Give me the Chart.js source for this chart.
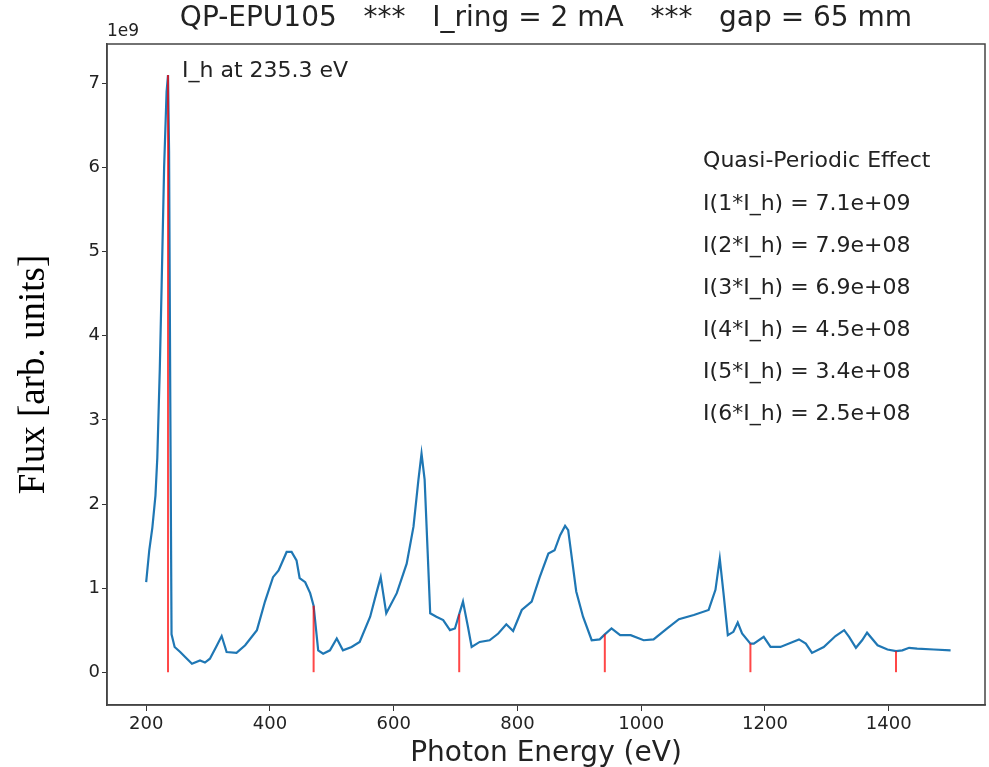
<!DOCTYPE html>
<html><head><meta charset="utf-8">
<script src="https://cdn.jsdelivr.net/npm/chart.js@4.4.1/dist/chart.umd.min.js"></script>
<style>html,body{margin:0;padding:0;background:#fff;}#wrap{width:989px;height:767px;}</style>
</head><body><div id="wrap"><canvas id="c" width="989" height="767"></canvas></div>
<script>
// Photon energy (eV) and flux (units of 1e9)
const energy = [200,205,210,215,218,222,225,229,233,235.3,237,239,241,246,255,263,274,287,295,303,313,322,330,346,360,379,392,405,414,427,435,443,448,457,465,470.6,478,486,497,508,518,532,545,562,572,579,588,605,621,632,640,645,650,655,659,669,680,691,699,705.9,712,720,726,739,755,769,782,793,807,823,836,850,860,869,877,882,895,906,920,933,941.2,952,966,983,1004,1020,1042,1061,1085,1109,1120,1127,1133,1140,1149,1156,1163,1176.5,1182,1198,1209,1225,1255,1266,1276,1295,1314,1328,1336,1347,1357,1365,1382,1398,1411.8,1422,1433,1446,1473,1500];
const flux = [1.07,1.45,1.72,2.1,2.55,3.6,4.6,6.0,6.9,7.1,6.2,3.2,0.45,0.30,0.24,0.18,0.10,0.14,0.115,0.16,0.30,0.43,0.24,0.23,0.32,0.50,0.84,1.13,1.21,1.43,1.43,1.33,1.12,1.07,0.94,0.79,0.26,0.22,0.26,0.40,0.26,0.30,0.36,0.66,0.94,1.13,0.70,0.94,1.29,1.73,2.29,2.60,2.29,1.41,0.70,0.66,0.62,0.50,0.52,0.69,0.84,0.54,0.30,0.36,0.38,0.46,0.57,0.49,0.74,0.84,1.13,1.41,1.45,1.63,1.74,1.69,0.96,0.66,0.38,0.39,0.45,0.52,0.44,0.44,0.38,0.39,0.52,0.63,0.68,0.74,0.98,1.35,0.94,0.44,0.48,0.59,0.46,0.34,0.34,0.42,0.30,0.30,0.39,0.34,0.23,0.30,0.43,0.50,0.42,0.29,0.38,0.47,0.32,0.27,0.25,0.26,0.29,0.28,0.27,0.26];
// Harmonics (eV) and their intensities (units of 1e9)
const harmonicE = [235.3, 470.6, 705.9, 941.2, 1176.5, 1411.8];
const harmonicI = [7.1, 0.79, 0.69, 0.45, 0.34, 0.25];
const xTicks = [200, 400, 600, 800, 1000, 1200, 1400];
const yTicks = [0, 1, 2, 3, 4, 5, 6, 7];
const titleText = "QP-EPU105   ***   I_ring = 2 mA   ***   gap = 65 mm";
const peakLabel = "I_h at 235.3 eV";
const infoLines = ["Quasi-Periodic Effect","I(1*I_h) = 7.1e+09","I(2*I_h) = 7.9e+08","I(3*I_h) = 6.9e+08","I(4*I_h) = 4.5e+08","I(5*I_h) = 3.4e+08","I(6*I_h) = 2.5e+08"];
const xLabel = "Photon Energy (eV)";
const yLabel = "Flux [arb. units]";
const expLabel = "1e9";

const datasets = [{
  data: energy.map((e, i) => ({x: e, y: flux[i]})),
  borderColor: '#1f77b4', borderWidth: 2.2, pointRadius: 0, tension: 0, order: 2
}];
harmonicE.forEach((e, i) => {
  datasets.push({
    data: [{x: e, y: 0}, {x: e, y: harmonicI[i]}],
    borderColor: 'rgba(255,0,0,0.72)', borderWidth: 2, pointRadius: 0, order: 1
  });
});

const TXT = '#222';
const textPlugin = {
  id: 'texts',
  afterDraw(chart) {
    const {ctx, chartArea: a, scales: {x, y}} = chart;
    ctx.save();
    ctx.strokeStyle = '#444'; ctx.lineWidth = 1.5;
    ctx.strokeRect(a.left, a.top, a.right - a.left, a.bottom - a.top);
    ctx.fillStyle = TXT;
    ctx.textBaseline = 'middle';
    ctx.textAlign = 'center';
    ctx.font = '28px "DejaVu Sans"';
    ctx.fillText(titleText, (a.left + a.right) / 2, 19);
    ctx.textAlign = 'left';
    ctx.font = '17px "DejaVu Sans"';
    ctx.fillText(expLabel, a.left, 32);
    ctx.font = '22px "DejaVu Sans"';
    ctx.fillText(peakLabel, x.getPixelForValue(258), y.getPixelForValue(7.14));
    infoLines.forEach((t, i) => {
      ctx.fillText(t, x.getPixelForValue(1100), y.getPixelForValue(6.07 - 0.5 * i));
    });
    ctx.restore();
  }
};

new Chart(document.getElementById('c'), {
  type: 'line',
  data: {datasets},
  options: {
    responsive: false, animation: false,
    layout: {padding: {top: 44, right: 4, left: 0, bottom: 0}},
    plugins: {legend: {display: false}, tooltip: {enabled: false}},
    scales: {
      x: {
        type: 'linear', min: 136.7, max: 1555.6,
        afterBuildTicks: s => { s.ticks = xTicks.map(v => ({value: v})); },
        afterFit: s => { s.height = 62; },
        ticks: {autoSkip: false, maxRotation: 0, padding: 3, color: TXT, font: {size: 18, family: 'DejaVu Sans'}, callback: v => String(v)},
        grid: {drawOnChartArea: false, drawTicks: true, tickLength: 6, color: '#333'},
        border: {display: true, color: '#444', width: 1.5},
        title: {display: true, text: xLabel, color: TXT, font: {size: 28, family: 'DejaVu Sans'}, padding: {top: 0, bottom: -4}}
      },
      y: {
        type: 'linear', min: -0.39, max: 7.47,
        afterBuildTicks: s => { s.ticks = yTicks.map(v => ({value: v})); },
        afterFit: s => { s.width = 107; },
        ticks: {padding: 2, color: TXT, font: {size: 18, family: 'DejaVu Sans'}, callback: v => String(v)},
        grid: {drawOnChartArea: false, drawTicks: true, tickLength: 5, color: '#333'},
        border: {display: true, color: '#444', width: 1.5},
        title: {display: true, text: yLabel, color: '#000', font: {size: 37, family: '"Liberation Serif"'}, padding: {top: 12, bottom: 0}}
      }
    }
  },
  plugins: [textPlugin]
});
</script></body></html>
